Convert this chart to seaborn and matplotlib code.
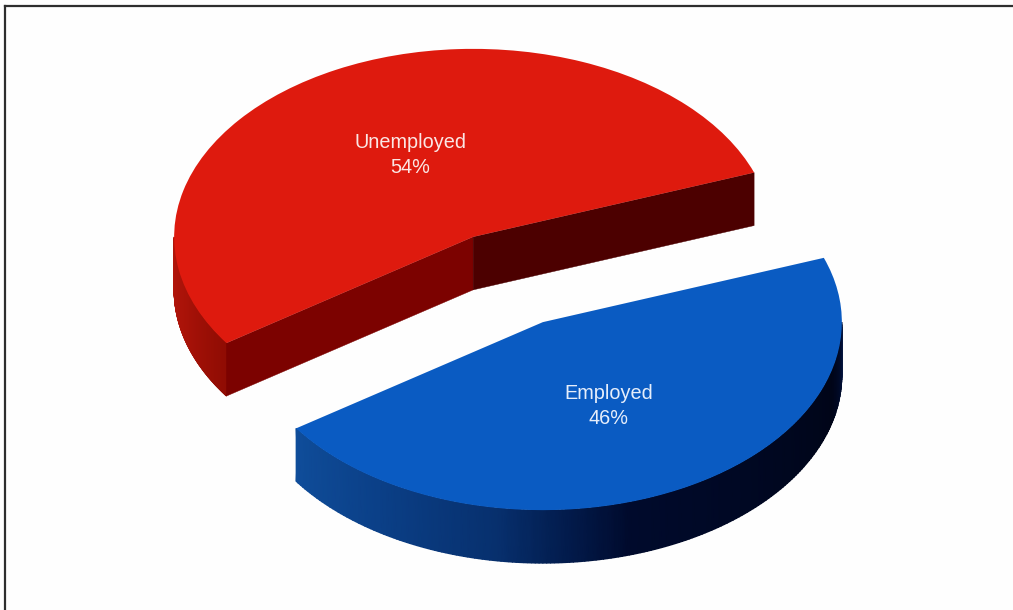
import numpy as np
import matplotlib
matplotlib.use("Agg")
import matplotlib.pyplot as plt
from matplotlib.colors import LinearSegmentedColormap
import seaborn as sns

# Data
categories = ["Unemployed", "Employed"]
shares = [54, 46]

# Styles
top_colors = ["#de1a0e", "#0a5bc2"]
W, H = 1013, 610
AX_L, AX_T = 5, 6
CX, CY = 508, 279.5    # pixel position of the pie's centre
RX, RY = 299, 188      # pixel semi-axes of the tilted disc
DEPTH = 53 / RY        # wall height in y data units
EXPLODE = 0.255
START = 20

sns.set_theme(style="white", rc={"axes.facecolor": "#fefefe", "figure.facecolor": "#fefefe"})
plt.rcParams["font.family"] = ["Liberation Sans", "DejaVu Sans"]

fig = plt.figure(figsize=(W / 100, H / 100), dpi=100)
ax = fig.add_axes([AX_L / W, 0, 1 - AX_L / W, 1 - AX_T / H])

wedges, _ = ax.pie(shares, startangle=START, colors=top_colors, radius=1.0,
                   explode=[EXPLODE] * len(shares), frame=True,
                   wedgeprops={"linewidth": 0, "zorder": 5})

# the disc is seen at a tilt: x and y units differ
ax.set_aspect("auto")
ax.set_xlim((AX_L - CX) / RX, (W - CX) / RX)
ax.set_ylim((CY - H) / RY, (CY - AX_T) / RY)
ax.set_xticks([])
ax.set_yticks([])

wall_maps = [
    LinearSegmentedColormap.from_list("red_wall", ["#b4160b", "#a81208", "#900c03"]),
    LinearSegmentedColormap.from_list(
        "blue_wall",
        [(0, "#0f4d9a"), (0.15, "#0b4088"), (0.32, "#07306e"), (0.42, "#021a4a"),
         (0.5, "#000a2c"), (0.9, "#000518"), (1, "#000f38")]),
]
cut_colors = {0: ("#7c0200", "#4c0000")}
label_offsets = [(-63, 82), (66, -84)]

for i, w in enumerate(wedges):
    cx, cy = w.center
    lo = np.radians(w.theta1)
    hi = np.radians(w.theta2)
    # outer wall: only the part of the rim that faces the viewer
    a0 = max(lo, np.pi)
    a1 = min(hi, 2 * np.pi)
    t = np.linspace(a0, a1, 200)
    xr = cx + np.cos(t)
    yr = cy + np.sin(t)
    X = np.vstack([xr, xr])
    Y = np.vstack([yr, yr - DEPTH])
    C = np.vstack([np.linspace(0, 1, t.size)] * 2)
    ax.pcolormesh(X, Y, C, shading="gouraud", cmap=wall_maps[i], zorder=2)
    # faces of the cut that look towards the viewer
    if i in cut_colors:
        for ang, col in zip((hi, lo), cut_colors[i]):
            xe, ye = cx + np.cos(ang), cy + np.sin(ang)
            ax.fill([cx, xe, xe, cx], [cy, ye, ye - DEPTH, cy - DEPTH],
                    color=col, lw=0.3, zorder=3)

    # label, placed relative to the slice's centre
    off = label_offsets[i]
    lx = cx + off[0] / RX
    ly = cy + off[1] / RY
    ax.text(lx, ly, f"{categories[i]}\n{shares[i]}%", color="#fbe6e4" if i == 0 else "#e6eefb",
            ha="center", va="center", fontsize=14.3, linespacing=1.38, zorder=6)

sns.despine(ax=ax, top=False, left=False, right=True, bottom=True)
for side in ("top", "left"):
    ax.spines[side].set_color("#2e2e2e")
    ax.spines[side].set_linewidth(1.6)

fig.savefig("out.png", dpi=100)
